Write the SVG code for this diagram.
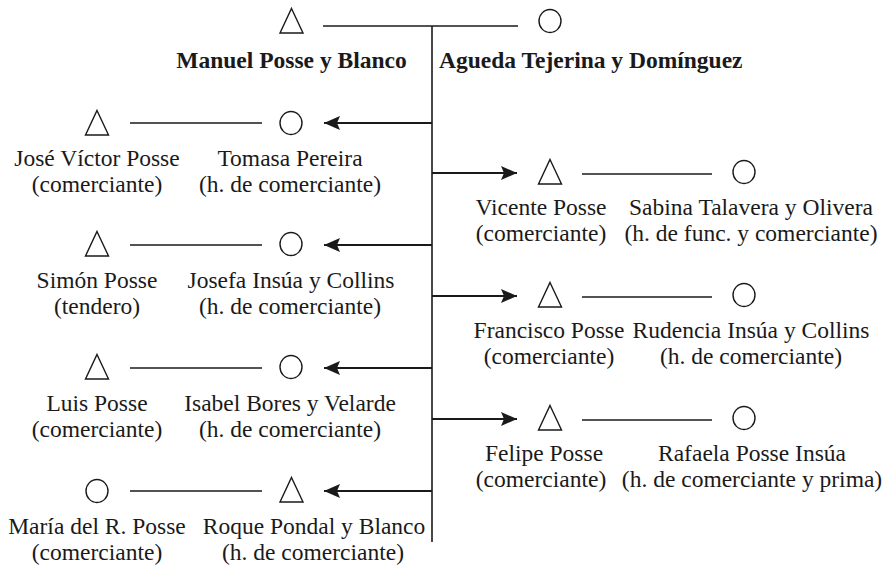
<svg xmlns="http://www.w3.org/2000/svg" width="889" height="569" viewBox="0 0 889 569">
<style>
  text { font-family: "Liberation Serif", "Times New Roman", serif; font-size: 23.5px; fill: #1a1a1a; text-anchor: middle; }
  .b { font-weight: bold; }
  .sym { fill: none; stroke: #1a1a1a; stroke-width: 1.4; }
  .sp { stroke: #1a1a1a; stroke-width: 1.4; fill: none; }
  .tr { stroke: #1a1a1a; stroke-width: 1.6; fill: none; }
  .ar { stroke: #1a1a1a; stroke-width: 2.2; fill: none; marker-end: url(#ah); }
</style>
<defs>
  <marker id="ah" viewBox="0 0 16 14" refX="16" refY="7" markerWidth="16" markerHeight="14" markerUnits="userSpaceOnUse" orient="auto">
    <path d="M0,0 L16,7 L0,14 L3,7 Z" fill="#1a1a1a"/>
  </marker>
  <polygon id="tri" points="0,-12.5 11.5,12 -11.5,12" class="sym"/>
  <ellipse id="cir" cx="0" cy="0" rx="11" ry="11.5" class="sym"/>
</defs>
<rect width="889" height="569" fill="#fff"/>

<g id="connectors">
  <line class="tr" x1="432" y1="26" x2="432" y2="542"/>
  <line class="sp" x1="323" y1="26" x2="518" y2="26"/>
  <line class="sp" x1="130" y1="123" x2="262" y2="123"/>
  <line class="sp" x1="130" y1="245" x2="262" y2="245"/>
  <line class="sp" x1="130" y1="368" x2="262" y2="368"/>
  <line class="sp" x1="130" y1="491" x2="262" y2="491"/>
  <line class="sp" x1="582" y1="174" x2="712" y2="174"/>
  <line class="sp" x1="582" y1="297" x2="712" y2="297"/>
  <line class="sp" x1="582" y1="420" x2="712" y2="420"/>
  <path class="ar" d="M432,123 H324"/>
  <path class="ar" d="M432,245 H324"/>
  <path class="ar" d="M432,368 H324"/>
  <path class="ar" d="M432,491 H324"/>
  <path class="ar" d="M432,173 H517"/>
  <path class="ar" d="M432,296 H517"/>
  <path class="ar" d="M432,419 H517"/>
</g>

<g id="manuel">
  <use href="#tri" x="291.5" y="21"/>
  <text class="b" x="291.5" y="68">Manuel Posse y Blanco</text>
</g>
<g id="agueda">
  <use href="#cir" x="550" y="21"/>
  <text class="b" x="439" y="68" style="text-anchor:start">Agueda Tejerina y Domínguez</text>
</g>

<g id="jose">
  <use href="#tri" x="97" y="123"/>
  <text x="97" y="166">José Víctor Posse</text>
  <text x="97" y="192">(comerciante)</text>
</g>
<g id="tomasa">
  <use href="#cir" x="291" y="123"/>
  <text x="290" y="166">Tomasa Pereira</text>
  <text x="290" y="192">(h. de comerciante)</text>
</g>

<g id="vicente">
  <use href="#tri" x="550" y="172"/>
  <text x="541" y="215">Vicente Posse</text>
  <text x="541" y="241">(comerciante)</text>
</g>
<g id="sabina">
  <use href="#cir" x="744" y="172"/>
  <text x="751" y="215">Sabina Talavera y Olivera</text>
  <text x="751" y="241">(h. de func. y comerciante)</text>
</g>

<g id="simon">
  <use href="#tri" x="97" y="244"/>
  <text x="97" y="288">Simón Posse</text>
  <text x="97" y="314">(tendero)</text>
</g>
<g id="josefa">
  <use href="#cir" x="291" y="244"/>
  <text x="291" y="288">Josefa Insúa y Collins</text>
  <text x="290" y="314">(h. de comerciante)</text>
</g>

<g id="francisco">
  <use href="#tri" x="550" y="295"/>
  <text x="549" y="338">Francisco Posse</text>
  <text x="549" y="364">(comerciante)</text>
</g>
<g id="rudencia">
  <use href="#cir" x="744" y="295"/>
  <text x="751" y="338">Rudencia Insúa y Collins</text>
  <text x="751" y="364">(h. de comerciante)</text>
</g>

<g id="luis">
  <use href="#tri" x="97" y="367"/>
  <text x="97" y="411">Luis Posse</text>
  <text x="97" y="437">(comerciante)</text>
</g>
<g id="isabel">
  <use href="#cir" x="291" y="367"/>
  <text x="290" y="411">Isabel Bores y Velarde</text>
  <text x="290" y="437">(h. de comerciante)</text>
</g>

<g id="felipe">
  <use href="#tri" x="550" y="418"/>
  <text x="544" y="461">Felipe Posse</text>
  <text x="541" y="487">(comerciante)</text>
</g>
<g id="rafaela">
  <use href="#cir" x="744" y="418"/>
  <text x="752" y="461">Rafaela Posse Insúa</text>
  <text x="752" y="487">(h. de comerciante y prima)</text>
</g>

<g id="maria">
  <use href="#cir" x="97" y="491"/>
  <text x="97" y="534">María del R. Posse</text>
  <text x="97" y="560">(comerciante)</text>
</g>
<g id="roque">
  <use href="#tri" x="291.5" y="490"/>
  <text x="314" y="534">Roque Pondal y Blanco</text>
  <text x="313" y="560">(h. de comerciante)</text>
</g>
</svg>
